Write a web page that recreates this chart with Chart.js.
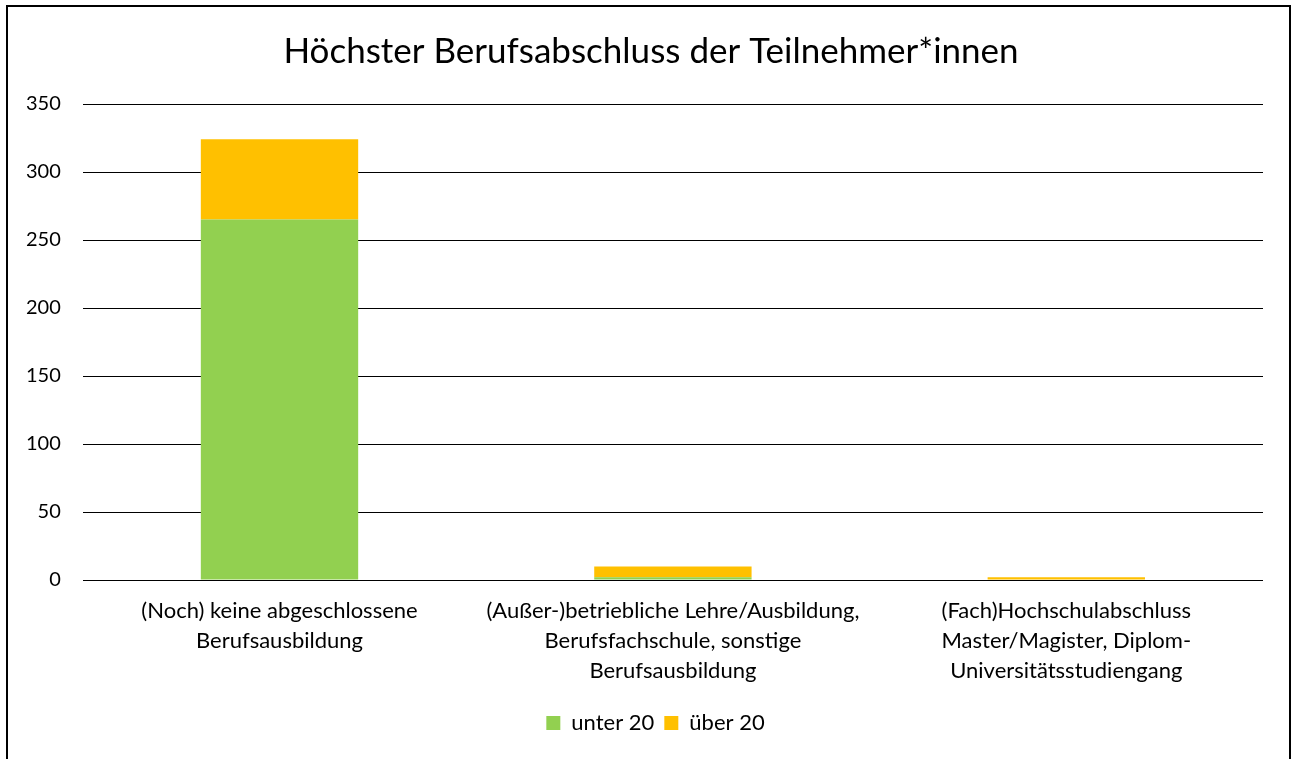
<!DOCTYPE html>
<html>
<head>
<meta charset="utf-8">
<script src="https://cdn.jsdelivr.net/npm/chart.js@4"></script>
<style>
html,body{margin:0;padding:0;background:#fff;}
canvas{display:block;}
</style>
</head>
<body>
<canvas id="c" width="1293" height="759"></canvas>
<script>
const chartTitle = "Höchster Berufsabschluss der Teilnehmer*innen";
const categories = [
  ["(Noch) keine abgeschlossene", "Berufsausbildung"],
  ["(Außer-)betriebliche Lehre/Ausbildung,", "Berufsfachschule, sonstige", "Berufsausbildung"],
  ["(Fach)Hochschulabschluss", "Master/Magister, Diplom-", "Universitätsstudiengang"]
];
const seriesNames = ["unter 20", "über 20"];
const unter20 = [265, 2, 0];
const ueber20 = [59, 8, 2];
const yMax = 350;
const yStep = 50;

const borderPlugin = {
  id: 'outerBorder',
  afterLayout(chart) {
    if (chart.titleBlock) { chart.titleBlock.left = 36; chart.titleBlock.right = 1266; }
    if (chart.legend) { chart.legend.left = 48; chart.legend.right = 1263; }
  },
  afterDraw(chart) {
    const ctx = chart.ctx;
    ctx.save();
    ctx.strokeStyle = '#000';
    ctx.lineWidth = 2;
    ctx.strokeRect(7, 6, 1283, 800);
    ctx.restore();
  }
};

new Chart(document.getElementById('c'), {
  type: 'bar',
  data: {
    labels: categories,
    datasets: [
      { label: seriesNames[0], data: unter20, backgroundColor: '#92D050', borderWidth: 0 },
      { label: seriesNames[1], data: ueber20, backgroundColor: '#FFC000', borderWidth: 0 }
    ]
  },
  options: {
    responsive: false,
    devicePixelRatio: 1,
    animation: false,
    categoryPercentage: 0.4,
    barPercentage: 1,
    layout: { padding: { left: 4, right: 30, top: 12, bottom: 15 } },
    plugins: {
      title: {
        display: true,
        text: chartTitle,
        color: '#000',
        font: { family: 'Lato', size: 35, weight: 'normal' },
        padding: { top: 19, bottom: 31 }
      },
      legend: {
        position: 'bottom',
        labels: {
          color: '#000',
          boxWidth: 14,
          boxHeight: 14,
          padding: 10,
          font: { family: 'Lato', size: 22 }
        }
      },
      tooltip: { enabled: false }
    },
    scales: {
      x: {
        stacked: true,
        grid: { display: false, drawTicks: false },
        border: { display: false },
        ticks: {
          color: '#000',
          maxRotation: 0,
          autoSkip: false,
          padding: 16,
          font: { family: 'Lato', size: 22, lineHeight: 1.3636 }
        }
      },
      y: {
        stacked: true,
        min: 0,
        max: yMax,
        grid: { color: '#000', lineWidth: 1, drawTicks: false },
        border: { display: false },
        ticks: {
          stepSize: yStep,
          color: '#000',
          padding: 22,
          font: { family: 'Lato', size: 20 }
        }
      }
    }
  },
  plugins: [borderPlugin]
});
</script>
</body>
</html>
